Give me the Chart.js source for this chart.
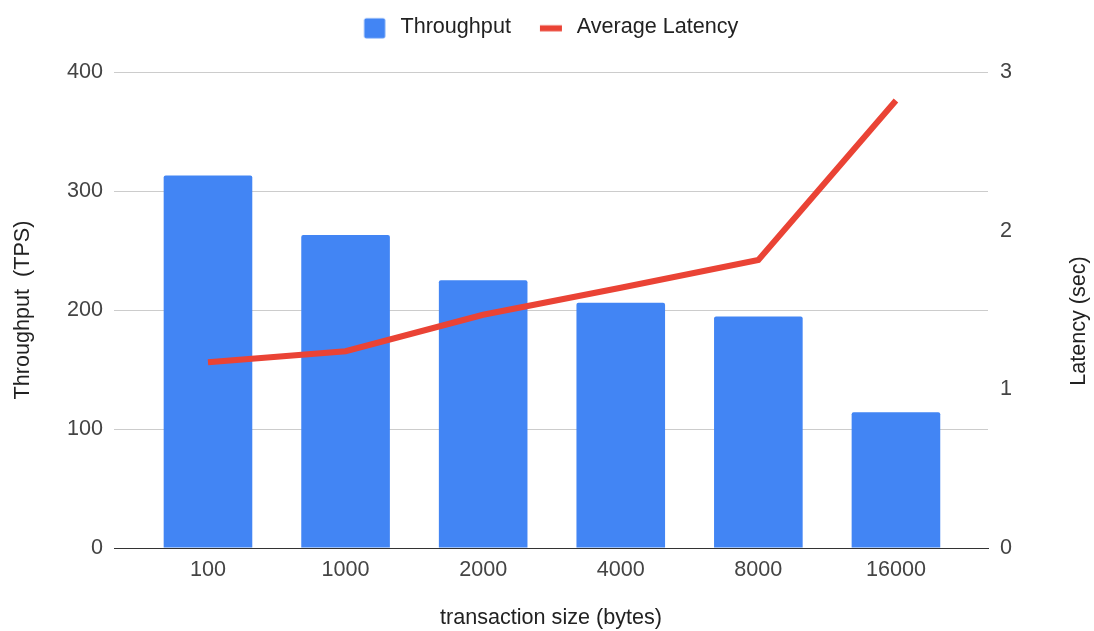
<!DOCTYPE html>
<html>
<head>
<meta charset="utf-8">
<script src="https://cdn.jsdelivr.net/npm/chart.js@4"></script>
<style>
  html, body { margin: 0; padding: 0; background: #fff; }
</style>
</head>
<body>
<canvas id="myChart" width="1094" height="631"></canvas>
<script>
var sizes = ["100", "1000", "2000", "4000", "8000", "16000"];
var throughput = [313, 263, 225, 206, 194.5, 114];
var latency = [1.17, 1.24, 1.47, 1.64, 1.815, 2.82];
var leftTicks = [0, 100, 200, 300, 400];
var rightTicks = [0, 1, 2, 3];

var blue = "#4285F4";
var red = "#EA4335";

Chart.defaults.font.family = "'Liberation Sans', Arial, sans-serif";
Chart.defaults.font.size = 21.6;
Chart.defaults.color = "#444";

// little canvases used as legend markers (square for bars, stroke for the line)
function legendMark(color, isLine) {
  var c = document.createElement("canvas");
  c.width = 46;
  c.height = 30;
  var g = c.getContext("2d");
  g.fillStyle = color;
  if (isLine) {
    g.fillRect(20, 13.5, 22, 6);
  } else {
    g.beginPath();
    g.roundRect(20.5, 6.5, 21, 20, 2);
    g.fill();
  }
  return c;
}
var marks = [legendMark(blue, false), legendMark(red, true)];

// legend block is taller than its one row: leave room under it
var legendSpace = {
  id: "legendSpace",
  beforeLayout: function (chart) {
    var lg = chart.legend;
    if (lg && !lg._patched) {
      var fit = lg.fit;
      lg.fit = function () {
        fit.call(this);
        this.height = 65;
      };
      lg._patched = true;
    }
  }
};

// right axis title reads bottom-to-top like the left one
var rightTitle = {
  id: "rightTitle",
  afterDraw: function (chart) {
    var ctx = chart.ctx;
    ctx.save();
    ctx.translate(1079.5, 321);
    ctx.rotate(-Math.PI / 2);
    ctx.font = "21.6px 'Liberation Sans', Arial, sans-serif";
    ctx.fillStyle = "#222";
    ctx.textAlign = "center";
    ctx.textBaseline = "middle";
    ctx.fillText("Latency (sec)", 0, 0);
    ctx.restore();
  }
};

new Chart("myChart", {
  type: "bar",
  data: {
    datasets: [{
      type: "bar",
      label: "Throughput",
      data: sizes.map(function (s, i) { return { x: i, y: throughput[i] }; }),
      backgroundColor: blue,
      borderRadius: 2,
      barPercentage: 0.644,
      categoryPercentage: 1,
      yAxisID: "y",
      order: 1
    }, {
      type: "line",
      label: "Average Latency",
      data: sizes.map(function (s, i) { return { x: i, y: latency[i] }; }),
      borderColor: red,
      backgroundColor: red,
      borderWidth: 6,
      pointRadius: 0,
      tension: 0,
      yAxisID: "y1",
      order: 0
    }]
  },
  options: {
    responsive: false,
    animation: false,
    layout: { padding: { top: 7, right: 12, left: 0, bottom: 0 } },
    plugins: {
      tooltip: { enabled: false },
      legend: {
        position: "top",
        labels: {
          usePointStyle: true,
          pointStyleWidth: 46,
          padding: 9,
          color: "#222",
          sort: function (a, b) { return a.datasetIndex - b.datasetIndex; },
          generateLabels: function (chart) {
            var items = Chart.defaults.plugins.legend.labels.generateLabels(chart);
            items.forEach(function (it) { it.pointStyle = marks[it.datasetIndex]; });
            return items;
          }
        }
      }
    },
    scales: {
      x: {
        type: "linear",
        offset: false,
        min: -0.683,
        max: 5.669,
        grid: { display: false },
        border: { display: true, color: "#333", width: 1 },
        ticks: {
          padding: 1,
          autoSkip: false,
          maxRotation: 0,
          callback: function (v) { return sizes[v]; }
        },
        afterBuildTicks: function (s) {
          s.ticks = sizes.map(function (_, i) { return { value: i }; });
        },
        afterFit: function (s) {
          s.height = 83;
          s.paddingLeft = 0;
          s.paddingRight = 0;
        },
        title: {
          display: true,
          text: "transaction size (bytes)",
          color: "#222",
          padding: { top: 0, bottom: 0 }
        }
      },
      y: {
        position: "left",
        min: leftTicks[0],
        max: leftTicks[leftTicks.length - 1],
        ticks: { stepSize: 100, padding: 11 },
        grid: {
          drawTicks: false,
          color: function (c) { return c.tick && c.tick.value === 0 ? "#333" : "#cccccc"; }
        },
        border: { display: false },
        afterFit: function (s) {
          s.width = 114;
        },
        title: {
          display: true,
          text: "Throughput  (TPS)",
          color: "#222",
          padding: { top: 10, bottom: 0 }
        }
      },
      y1: {
        position: "right",
        min: rightTicks[0],
        max: rightTicks[rightTicks.length - 1],
        ticks: { stepSize: 1, padding: 12 },
        grid: { display: false, drawTicks: false },
        border: { display: false },
        afterFit: function (s) {
          s.width = 94;
        }
      }
    }
  },
  plugins: [legendSpace, rightTitle]
});
</script>
</body>
</html>
